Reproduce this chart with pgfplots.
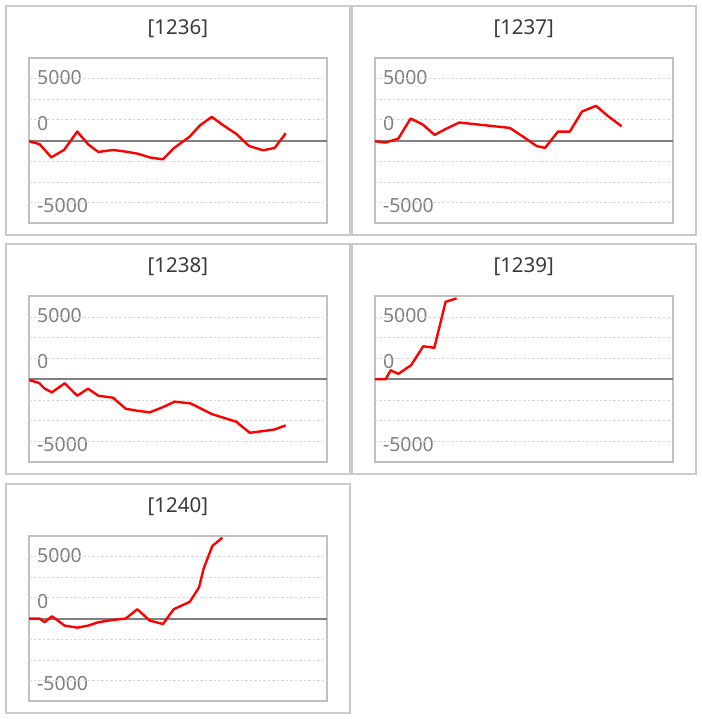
\documentclass[border=0pt]{standalone}
\usepackage{pgfplots}
\pgfplotsset{compat=1.18}
\usepackage{pgfplotstable}
\usepackage{fontspec}
\setmainfont{Noto Sans}
\definecolor{outergray}{HTML}{CACACA}
\definecolor{innergray}{HTML}{C0C0C0}
\definecolor{gridgray}{HTML}{D8D8D8}
\definecolor{zerogray}{HTML}{808080}
\definecolor{labelgray}{HTML}{808080}
\definecolor{titlegray}{HTML}{3A3A3A}

\pgfplotstableread{
x y
0 -80
10.7 -440
22.3 -2020
35 -1130
48.3 1090
59 -440
69.3 -1370
84 -1130
96.7 -1330
108.3 -1570
121.7 -2060
134 -2260
144.7 -930
160.7 480
170.7 1810
182.7 2860
194.7 1810
207.3 810
220 -650
234 -1170
245.7 -890
256.7 890
}\tA
\pgfplotstableread{
x y
0 -80
10.8 -240
23.5 240
35.8 2660
47.5 1980
59.8 690
71.8 1450
84.5 2180
135 1530
148.2 480
161.8 -650
170.2 -890
183.2 1090
195 1090
207.2 3510
221.2 4190
233.8 2900
246.8 1730
}\tB
\pgfplotstableread{
x y
0 -80
10 -440
15.7 -1130
23 -1570
35.7 -480
48.3 -1980
59 -1130
69.3 -1980
84 -2220
96.7 -3550
108.3 -3790
120.7 -3990
134 -3350
145.7 -2700
161.3 -2900
172.3 -3550
182.7 -4190
194.7 -4640
207.3 -5120
220.7 -6450
234 -6250
245.7 -6050
256.7 -5560
}\tC
\pgfplotstableread{
x y
0 0
10.8 0
15.8 1090
23.5 650
36.2 1690
48.5 3990
59.5 3790
70.8 9350
81.8 9760
}\tD
\pgfplotstableread{
x y
0 0
10.7 0
15.7 -440
23 280
35.7 -850
48.3 -1090
59 -850
69.3 -440
84 -160
96.7 0
108.3 1130
120.7 -240
134 -650
144.7 1130
160.7 2020
170 3750
174.7 6050
183.3 8750
193.3 9760
}\tE

\pgfplotsset{
  mini/.style={
    anchor=south west,
    scale only axis,
    width=298pt, height=165.8pt,
    xmin=0, xmax=298, ymin=-10000, ymax=10000,
    scaled y ticks=false, scaled x ticks=false,
    axis line style={draw=innergray, line width=2pt},
    xtick=\empty,
    ytick={-7860,2090,7650},
    yticklabels={-5000,0,5000},
    major tick length=0pt,
    yticklabel style={anchor=west, inner sep=0pt, xshift=8pt,
      font=\fontsize{19.5}{20}\selectfont, text=labelgray},
    extra y ticks={-7500,-5000,-2500,2500,5000,7500},
    extra y tick labels={},
    extra y tick style={grid=major},
    major grid style={draw=gridgray, line width=1pt, dash pattern=on 2.5pt off 2pt},
  },
}
\newcommand{\paneltitle}[3]{%
  \node[anchor=base, inner sep=0pt, text=titlegray,
    font=\fontsize{20.5}{22}\selectfont] at (#1,#2) {#3};}

\begin{document}
\begin{tikzpicture}[x=1pt,y=1pt]
\fill[white] (0,0) rectangle (701,719);
% outer panels
\draw[outergray, line width=2pt] (5.8,713.2) rectangle (350,483.7);
\draw[outergray, line width=2pt] (351.6,713.2) rectangle (695.8,483.7);
\draw[outergray, line width=2pt] (5.8,474.5) rectangle (350,245.0);
\draw[outergray, line width=2pt] (351.6,474.5) rectangle (695.8,245.0);
\draw[outergray, line width=2pt] (5.8,235.2) rectangle (350,5.7);
% titles
\paneltitle{177.9}{684.7}{[1236]}
\paneltitle{523.7}{684.7}{[1237]}
\paneltitle{177.9}{446.0}{[1238]}
\paneltitle{523.7}{446.0}{[1239]}
\paneltitle{177.9}{206.5}{[1240]}

\begin{axis}[mini, at={(29pt,495.5pt)}]
\addplot[zerogray, line width=2pt, forget plot] coordinates {(0,0) (298,0)};
\addplot[red, line width=2.4pt, line join=round] table[x=x,y=y] {\tA};
\end{axis}
\begin{axis}[mini, at={(374.8pt,495.5pt)}]
\addplot[zerogray, line width=2pt, forget plot] coordinates {(0,0) (298,0)};
\addplot[red, line width=2.4pt, line join=round] table[x=x,y=y] {\tB};
\end{axis}
\begin{axis}[mini, at={(29pt,256.8pt)}]
\addplot[zerogray, line width=2pt, forget plot] coordinates {(0,0) (298,0)};
\addplot[red, line width=2.4pt, line join=round] table[x=x,y=y] {\tC};
\end{axis}
\begin{axis}[mini, at={(374.8pt,256.8pt)}]
\addplot[zerogray, line width=2pt, forget plot] coordinates {(0,0) (298,0)};
\addplot[red, line width=2.4pt, line join=round] table[x=x,y=y] {\tD};
\end{axis}
\begin{axis}[mini, at={(29pt,17.5pt)}]
\addplot[zerogray, line width=2pt, forget plot] coordinates {(0,0) (298,0)};
\addplot[red, line width=2.4pt, line join=round] table[x=x,y=y] {\tE};
\end{axis}
\end{tikzpicture}
\end{document}
